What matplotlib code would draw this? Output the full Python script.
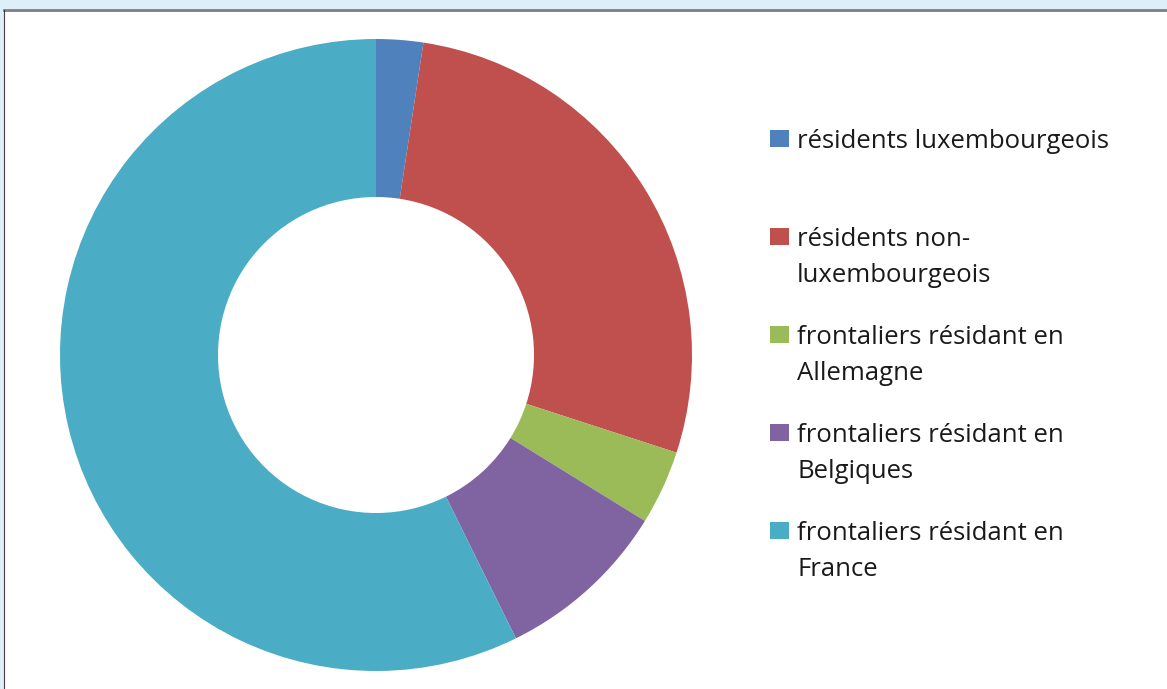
import matplotlib
matplotlib.use("Agg")
import matplotlib.pyplot as plt
from matplotlib.patches import Rectangle

plt.rcParams['font.family'] = ['Open Sans', 'DejaVu Sans']

# parts (en %)
labels = ["résidents luxembourgeois",
          "résidents non-\nluxembourgeois",
          "frontaliers résidant en\nAllemagne",
          "frontaliers résidant en\nBelgiques",
          "frontaliers résidant en\nFrance"]
valeurs = [2.4, 27.6, 3.8, 8.9, 57.3]
couleurs = ["#4F81BD", "#C0504D", "#9BBB59", "#8064A2", "#4BACC6"]

W, H = 1167, 689
fig = plt.figure(figsize=(W / 100, H / 100), dpi=100)
fig.patch.set_facecolor("#DDEFF9")

# panneau blanc avec bordure
fig.add_artist(Rectangle((4 / W, 0), 1 - 4 / W, 1 - 10 / H, transform=fig.transFigure,
                         facecolor="white", edgecolor="none", zorder=-10))
fig.add_artist(plt.Line2D([4 / W, 1], [1 - 10 / H, 1 - 10 / H], transform=fig.transFigure,
                          color="#7F7F7F", lw=2, zorder=-9))
fig.add_artist(plt.Line2D([4 / W, 4 / W], [0, 1 - 10 / H], transform=fig.transFigure,
                          color="#404040", lw=0.8, zorder=-9))

# anneau
cx, cy, r = 376, 355, 316
ax = fig.add_axes([(cx - r) / W, (H - cy - r) / H, 2 * r / W, 2 * r / H])
ax.patch.set_visible(False)
ax.pie(valeurs, colors=couleurs, startangle=90, counterclock=False,
       wedgeprops=dict(width=0.5, edgecolor="none"))
ax.set_xlim(-1, 1)
ax.set_ylim(-1, 1)
ax.set_aspect("equal")
ax.axis("off")

# légende
y_pos = [139, 237, 335, 433, 531]
for lab, col, y in zip(labels, couleurs, y_pos):
    fig.add_artist(Rectangle((770 / W, 1 - (y + 8) / H), 19 / W, 17 / H,
                             transform=fig.transFigure, facecolor=col, edgecolor="none"))
    fig.text(797 / W, 1 - (y - 10) / H, lab, fontsize=18.5, va="top", ha="left",
             color="#1A1A1A", linespacing=1.6)

fig.savefig("out.png", dpi=100, facecolor=fig.get_facecolor())
